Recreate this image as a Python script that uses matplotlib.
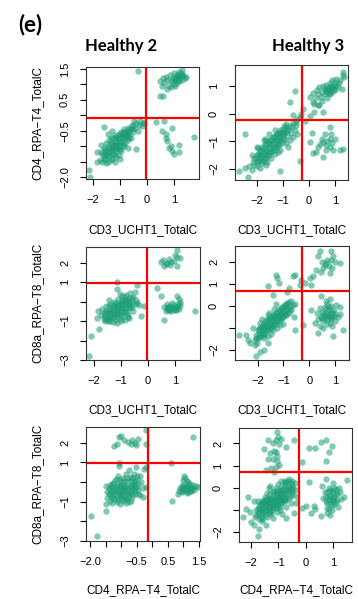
import matplotlib.pyplot as plt

plt.rcParams['font.family'] = ['Liberation Sans', 'DejaVu Sans']

# ---- data (x, y) ----
h2_cd3_cd4 = [
    # lower-left cluster
    (-1.75, -1.45), (-1.7, -1.2), (-1.65, -1.5), (-1.6, -1.3), (-1.6, -1.05), (-1.55, -1.4),
    (-1.5, -1.15), (-1.5, -0.9), (-1.45, -1.35), (-1.45, -1.0), (-1.4, -1.2), (-1.4, -0.8),
    (-1.35, -1.45), (-1.35, -1.05), (-1.3, -0.9), (-1.3, -1.25), (-1.25, -1.1), (-1.25, -0.75),
    (-1.2, -1.3), (-1.2, -0.95), (-1.15, -1.15), (-1.15, -0.7), (-1.1, -0.85), (-1.1, -1.05),
    (-1.05, -1.3), (-1.05, -0.6), (-1.0, -0.95), (-1.0, -0.75), (-0.95, -1.15), (-0.95, -0.55),
    (-0.9, -0.85), (-0.9, -0.65), (-0.85, -1.0), (-0.85, -0.45), (-0.8, -0.7), (-0.8, -0.9),
    (-0.75, -0.55), (-0.7, -0.8), (-0.7, -0.4), (-0.65, -0.6), (-0.6, -0.45), (-0.6, -0.75),
    (-0.55, -0.3), (-0.5, -0.55), (-0.45, -0.4), (-0.4, -0.25), (-0.35, -0.5), (-0.3, -0.3),
    (-0.25, -0.2), (-0.2, -0.35), (-1.59, -0.38), (-0.48, -0.17), (-0.15, -0.26), (-0.42, -1.09),
    (-1.84, -1.19), (-1.84, -1.5), (-1.7, -0.95), (-1.5, -1.55), (-1.2, -1.5), (-1.0, -1.4),
    (-0.7, -1.05), (-1.45, -0.6), (-1.3, -0.5), (-0.1, -0.25), (-2.15, -1.77), (-2.11, -2.0),
    (-0.33, 1.44),
    # upper-right cluster
    (0.5, 1.1), (0.6, 1.2), (0.65, 1.05), (0.7, 1.25), (0.75, 1.15), (0.8, 0.95), (0.85, 1.3),
    (0.9, 1.1), (0.95, 1.2), (1.0, 1.35), (1.0, 1.0), (1.05, 1.15), (1.1, 1.3), (1.1, 1.05),
    (1.15, 1.2), (1.2, 1.4), (1.2, 1.1), (1.25, 1.25), (1.3, 1.45), (1.3, 1.15), (1.35, 1.3),
    (1.4, 1.2), (0.75, 0.85), (0.9, 0.9), (1.05, 0.95), (1.45, 1.25), (0.55, 0.95), (0.6, 0.62),
    (0.5, 0.62),
    # lower-right cluster
    (0.32, -0.23), (0.63, -0.19), (0.94, -0.42), (0.57, -0.5), (0.69, -0.6), (0.75, -0.82),
    (0.88, -0.98), (0.94, -1.14), (1.19, -0.97), (1.19, -1.2), (1.74, -0.71), (0.8, -1.05),
    (0.7, -0.75), (1.0, -1.25),
]
h2_cd3_cd4_core = [
    (-1.65, -1.25), (-1.55, -1.1), (-1.55, -1.25), (-1.45, -1.2), (-1.4, -1.05), (-1.35, -0.9),
    (-1.3, -1.1), (-1.25, -0.95), (-1.2, -1.1), (-1.2, -0.8), (-1.15, -1.0), (-1.1, -0.95),
    (-1.1, -0.75), (-1.05, -0.85), (-1.05, -1.1), (-1.0, -0.65), (-1.0, -1.1), (-0.95, -0.85),
    (-0.95, -0.7), (-0.9, -1.0), (-0.85, -0.75), (-0.85, -0.6), (-0.8, -0.55), (-0.75, -0.75),
    (-0.75, -0.65), (-0.7, -0.55), (-0.65, -0.7), (-0.65, -0.45), (-0.55, -0.45), (-0.5, -0.35),
    (-1.3, -1.4), (-1.45, -1.5), (-1.6, -1.4), (-1.4, -1.3), (-1.25, -1.25), (-1.15, -1.35),
    (-0.9, -0.55), (-1.2, -0.65), (-1.35, -0.75), (-1.5, -1.3),
    (1.1, 1.2), (1.15, 1.3), (1.2, 1.25), (1.05, 1.25), (1.25, 1.35), (0.95, 1.1), (1.3, 1.3),
    (1.15, 1.15),
]

h3_cd3_cd4 = [
    (-2.1, -1.85), (-2.05, -1.6), (-2.0, -1.75), (-1.95, -1.45), (-1.9, -1.65), (-1.9, -1.3),
    (-1.85, -1.5), (-1.8, -1.8), (-1.8, -1.2), (-1.75, -1.4), (-1.7, -1.6), (-1.7, -1.1),
    (-1.65, -1.3), (-1.6, -1.5), (-1.6, -1.0), (-1.55, -1.2), (-1.5, -1.4), (-1.5, -0.95),
    (-1.45, -1.1), (-1.4, -1.3), (-1.4, -0.85), (-1.35, -1.0), (-1.3, -1.2), (-1.3, -0.8),
    (-1.25, -0.95), (-1.2, -1.1), (-1.2, -0.7), (-1.15, -0.85), (-1.1, -1.0), (-1.1, -0.6),
    (-1.05, -0.75), (-1.0, -0.9), (-1.0, -0.55), (-0.95, -0.7), (-0.9, -0.5), (-0.85, -0.8),
    (-0.8, -0.6), (-0.75, -0.45), (-0.7, -0.7), (-0.65, -0.5), (-0.6, -0.35), (-0.55, -0.6),
    (-0.5, -0.42), (-2.2, -1.5), (-2.0, -1.2), (-1.75, -0.95), (-1.55, -0.75), (-1.3, -1.45),
    (-1.1, -1.3), (-0.9, -1.05), (-0.75, -0.95), (-1.9, -1.95), (-1.6, -1.75), (-0.6, -0.85),
    (-0.8, -1.2), (-0.45, -0.75),
    (-2.69, -2.07), (-2.35, -2.28), (-2.46, -1.96), (-2.3, -1.9), (-2.2, -2.05), (-1.12, -2.07),
    (-2.46, -0.73), (-0.36, -1.72),
    (-0.55, 0.81), (-0.74, 0.42), (-0.23, 0.18), (-0.62, -0.06), (-0.36, -0.12), (0.15, 0.42),
    (0.2, 0.06), (0.54, 0.06), (0.35, 0.33), (-0.87, -0.36), (-0.45, -0.2), (-0.3, 0.0),
    (-0.15, -0.25), (0.05, -0.1), (-0.5, -0.3),
    (0.03, 0.6), (0.15, 0.75), (0.25, 0.55), (0.3, 0.85), (0.35, 0.7), (0.4, 0.95), (0.45, 0.6),
    (0.5, 0.8), (0.55, 1.0), (0.6, 0.7), (0.6, 0.9), (0.65, 1.05), (0.7, 0.8), (0.75, 0.95),
    (0.8, 1.1), (0.8, 0.7), (0.85, 0.9), (0.9, 1.2), (0.9, 0.8), (0.95, 1.0), (1.0, 1.15),
    (1.0, 0.85), (1.05, 1.25), (1.1, 0.95), (1.15, 1.1), (1.2, 1.2), (1.25, 0.9), (1.3, 1.4),
    (1.33, 1.32), (1.31, 1.5), (0.5, 0.45), (0.7, 0.55), (0.4, 0.3), (0.2, 0.35),
    (0.03, -1.02), (0.28, -1.38), (0.54, -1.56), (0.92, -1.31), (1.18, -1.31), (1.31, -1.29),
    (0.86, -0.72), (0.6, -0.72), (0.79, -0.9), (0.41, -1.08), (0.54, -1.02), (0.67, -1.14),
    (0.15, -1.44), (0.79, -1.2), (0.7, -1.0), (0.9, -1.05), (0.5, -0.9), (0.65, -1.3),
    (1.0, -0.9), (0.35, -1.2), (0.8, -0.5), (0.1, -0.7),
]
h3_cd3_cd4_core = [
    (-2.1, -1.6), (-2.0, -1.5), (-2.0, -1.9), (-1.95, -1.7), (-1.9, -1.5), (-1.85, -1.35),
    (-1.85, -1.7), (-1.8, -1.55), (-1.75, -1.25), (-1.75, -1.7), (-1.7, -1.45), (-1.65, -1.15),
    (-1.65, -1.6), (-1.6, -1.35), (-1.55, -1.05), (-1.55, -1.5), (-1.5, -1.25), (-1.45, -0.95),
    (-1.45, -1.4), (-1.4, -1.15), (-1.35, -0.85), (-1.35, -1.3), (-1.3, -1.05), (-1.25, -0.75),
    (-1.25, -1.2), (-1.2, -0.95), (-1.15, -0.7), (-1.15, -1.15), (-1.1, -0.85), (-1.05, -0.65),
    (-1.05, -1.05), (-1.0, -0.75), (-0.95, -0.9), (-0.9, -0.65), (-0.85, -0.55), (-1.65, -1.85),
    (-1.45, -1.6), (-1.95, -1.25), (-1.7, -0.9), (-1.3, -0.6), (-2.15, -1.75), (-1.2, -1.4),
    (-0.95, -0.45),
    (0.7, 0.9), (0.8, 0.85), (0.9, 0.95), (0.75, 0.75), (0.85, 1.0), (0.95, 0.9), (1.05, 1.05),
    (0.65, 0.85),
]

h2_cd3_cd8 = [
    (-1.75, -0.7), (-1.7, -0.4), (-1.65, -0.9), (-1.6, -0.55), (-1.55, -0.25), (-1.5, -0.75),
    (-1.5, -1.0), (-1.45, -0.45), (-1.4, -0.1), (-1.4, -0.8), (-1.35, -0.6), (-1.3, -0.3),
    (-1.3, -1.05), (-1.25, 0.0), (-1.25, -0.8), (-1.2, -0.5), (-1.15, -0.2), (-1.15, -1.1),
    (-1.1, 0.15), (-1.1, -0.65), (-1.05, -0.35), (-1.0, -0.9), (-1.0, 0.0), (-0.95, -0.5),
    (-0.95, 0.3), (-0.9, -0.15), (-0.9, -0.75), (-0.85, 0.1), (-0.8, -0.4), (-0.8, 0.35),
    (-0.75, -0.1), (-0.75, -0.65), (-0.7, 0.2), (-0.65, -0.3), (-0.65, 0.45), (-0.6, 0.0),
    (-0.55, -0.5), (-0.55, 0.25), (-0.5, -0.15), (-0.45, 0.1), (-1.6, -1.0), (-1.2, -0.95),
    (-0.85, -0.95), (-1.45, 0.1), (-1.05, 0.4), (-0.7, -0.85),
    (-1.14, 1.0), (-1.14, 0.66), (-0.4, 0.83), (-0.33, -0.2), (-0.15, -0.25), (-0.27, -0.76),
    (-1.88, -0.83), (-1.82, -1.4), (-2.12, -1.75), (-2.19, -2.78), (-0.4, -0.05), (-0.5, 0.5),
    (-1.85, -0.5),
    (0.35, 0.71), (0.47, 0.26), (0.6, -0.97), (1.76, -0.46), (1.09, 0.3), (1.15, 0.13),
    (0.6, -0.3), (0.7, -0.15), (0.75, -0.45), (0.8, -0.25), (0.85, -0.5), (0.9, -0.35),
    (0.95, -0.2), (1.0, -0.45), (1.05, -0.3), (1.1, -0.1), (1.15, -0.4), (1.2, -0.2),
    (0.65, -0.5), (0.9, -0.05), (1.2, 0.0), (0.75, -0.3),
    (1.09, 2.67), (0.47, 2.04), (0.78, 2.2), (1.09, 2.29), (1.09, 1.81), (0.6, 1.85),
    (0.7, 2.0), (0.85, 2.05), (0.55, 2.15), (0.65, 1.95), (0.95, 2.1), (1.0, 2.4), (0.8, 1.9),
    (1.2, 2.25),
]
h2_cd3_cd8_core = [
    (-1.65, -0.65), (-1.6, -0.8), (-1.55, -0.5), (-1.5, -0.6), (-1.45, -0.9), (-1.45, -0.25),
    (-1.4, -0.55), (-1.35, -0.4), (-1.35, -0.8), (-1.3, -0.65), (-1.25, -0.2), (-1.25, -0.45),
    (-1.2, -0.7), (-1.2, -0.05), (-1.15, -0.35), (-1.15, -0.55), (-1.1, -0.8), (-1.1, -0.3),
    (-1.05, -0.1), (-1.05, -0.55), (-1.0, -0.2), (-1.0, -0.7), (-0.95, 0.1), (-0.95, -0.35),
    (-0.9, -0.55), (-0.9, 0.05), (-0.85, -0.3), (-0.85, 0.25), (-0.8, -0.15), (-0.8, -0.55),
    (-0.75, 0.1), (-0.7, -0.35), (-0.7, 0.0), (-0.65, -0.15), (-0.6, 0.2), (-0.6, -0.3),
    (-1.4, -1.0), (-1.0, -1.0), (-1.55, -0.9), (-0.75, -0.8),
    (0.75, -0.4), (0.85, -0.35), (0.95, -0.4), (1.05, -0.45), (1.1, -0.3), (0.7, -0.35),
    (0.8, -0.45), (1.0, -0.3),
]

h3_cd3_cd8 = [
    (-2.1, -1.55), (-2.05, -1.3), (-2.0, -1.1), (-2.0, -1.45), (-1.95, -1.2), (-1.9, -0.95),
    (-1.9, -1.4), (-1.85, -1.15), (-1.8, -0.85), (-1.8, -1.3), (-1.75, -1.0), (-1.7, -0.7),
    (-1.7, -1.2), (-1.65, -0.9), (-1.6, -0.6), (-1.6, -1.1), (-1.55, -0.8), (-1.5, -0.5),
    (-1.5, -1.0), (-1.45, -0.7), (-1.4, -0.4), (-1.4, -0.9), (-1.35, -0.6), (-1.3, -0.3),
    (-1.3, -0.8), (-1.25, -0.5), (-1.2, -0.2), (-1.2, -0.7), (-1.15, -0.4), (-1.1, -0.1),
    (-1.1, -0.6), (-1.05, -0.3), (-1.0, 0.0), (-1.0, -0.5), (-0.95, -0.2), (-0.9, 0.1),
    (-0.9, -0.4), (-0.85, -0.1), (-0.8, 0.2), (-0.8, -0.3), (-0.75, 0.0), (-0.7, -0.2),
    (-0.7, 0.25), (-0.65, 0.05), (-1.75, -1.45), (-1.5, -1.25), (-1.25, -1.0), (-1.0, -0.8),
    (-2.2, -1.0), (-1.85, -0.6), (-1.55, -0.3), (-1.3, 0.1), (-0.6, -0.5), (-0.55, 0.1),
    (-2.45, -1.3), (-2.39, -1.53), (-2.71, -1.3), (-2.09, -1.76), (-1.77, -1.99), (-2.03, -1.7),
    (-2.08, -2.26), (-2.3, -1.7), (-1.9, -2.1), (-1.6, -1.7),
    (-1.29, 1.39), (-1.61, 0.92), (-1.16, 1.05), (-0.57, 1.39), (-0.31, 1.2), (-0.18, 1.05),
    (0.07, 0.97), (-0.77, 0.83), (-1.42, 0.51), (-1.26, 1.27), (-0.64, 1.36), (-0.37, 0.95),
    (-0.87, 0.64),
    (0.4, 2.49), (0.85, 2.49), (0.92, 2.26), (0.66, 1.95), (0.27, 1.66), (0.01, 1.27),
    (0.34, 2.26), (1.18, 1.95), (0.79, 1.5), (0.53, 1.73), (0.14, 1.35), (0.7, 2.1), (0.6, 1.85),
    (0.75, 1.8), (0.5, 2.0), (0.9, 1.75), (0.45, 1.55), (1.0, 2.0), (0.85, 2.1),
    (0.47, 0.44), (0.08, -0.2), (1.31, -1.08), (0.92, -1.38), (0.34, -1.23), (0.21, -0.77),
    (-0.25, -0.85), (-0.57, -1.08), (1.18, -0.06), (0.3, -0.3), (0.4, -0.1), (0.45, -0.5),
    (0.5, -0.25), (0.55, -0.7), (0.6, -0.05), (0.6, -0.45), (0.65, -0.3), (0.7, -0.6),
    (0.7, 0.1), (0.75, -0.2), (0.75, -0.45), (0.8, -0.75), (0.85, -0.3), (0.85, 0.0),
    (0.9, -0.5), (0.95, -0.2), (1.0, -0.7), (1.0, -0.35), (1.05, 0.05), (1.1, -0.5),
    (0.55, -1.0), (0.35, -0.6), (0.65, 0.25), (0.9, -0.9), (1.2, -0.35), (0.4, -0.9), (0.8, 0.3),
]
h3_cd3_cd8_core = [
    (-2.05, -1.45), (-1.95, -1.35), (-1.95, -1.05), (-1.85, -1.25), (-1.85, -0.95), (-1.8, -1.1),
    (-1.75, -0.8), (-1.75, -1.25), (-1.7, -0.95), (-1.65, -1.1), (-1.65, -0.7), (-1.6, -0.85),
    (-1.55, -1.0), (-1.55, -0.6), (-1.5, -0.75), (-1.45, -0.9), (-1.45, -0.5), (-1.4, -0.65),
    (-1.35, -0.8), (-1.35, -0.4), (-1.3, -0.55), (-1.25, -0.7), (-1.25, -0.3), (-1.2, -0.45),
    (-1.15, -0.6), (-1.15, -0.2), (-1.1, -0.35), (-1.05, -0.5), (-1.05, -0.1), (-1.0, -0.25),
    (-0.95, -0.4), (-0.95, 0.05), (-0.9, -0.15), (-0.85, -0.3), (-0.85, 0.15), (-0.75, -0.15),
    (-1.6, -1.35), (-1.4, -1.1), (-1.15, -0.85), (-1.9, -0.75), (-1.6, -0.4), (-1.35, -0.15),
    (0.55, -0.35), (0.6, -0.6), (0.65, -0.15), (0.7, -0.4), (0.75, -0.05), (0.8, -0.5),
    (0.85, -0.6), (0.9, -0.25), (0.95, -0.45), (0.7, -0.8), (0.5, -0.55),
]

h2_cd4_cd8 = [
    (-1.06, 2.29), (-1.23, 1.81), (-0.79, 2.03), (-0.53, 1.87), (-0.47, 2.2), (-0.2, 2.63),
    (-0.2, 1.95), (-0.9, 2.12), (-0.64, 2.12), (-1.12, 1.95), (-1.0, 2.35), (-0.7, 1.95),
    (-0.55, 2.0), (1.3, 2.3),
    (-1.45, -0.5), (-1.45, -0.8), (-1.4, -0.3), (-1.35, -0.65), (-1.35, -0.95), (-1.3, -0.1),
    (-1.3, -0.45), (-1.25, -0.8), (-1.2, 0.1), (-1.2, -0.3), (-1.2, -0.6), (-1.15, -1.0),
    (-1.1, -0.15), (-1.1, -0.45), (-1.1, 0.3), (-1.05, -0.75), (-1.0, 0.0), (-1.0, -0.3),
    (-1.0, -0.6), (-0.95, -0.95), (-0.95, 0.2), (-0.9, -0.15), (-0.9, -0.45), (-0.85, 0.4),
    (-0.85, -0.75), (-0.8, 0.05), (-0.8, -0.3), (-0.75, -0.55), (-0.75, -1.0), (-0.7, 0.25),
    (-0.7, -0.15), (-0.65, -0.4), (-0.65, -0.75), (-0.6, 0.0), (-0.6, 0.4), (-0.55, -0.25),
    (-0.55, -0.6), (-0.5, 0.15), (-0.45, -0.4), (-0.45, -0.1), (-0.4, 0.3), (-0.4, -0.65),
    (-1.3, -1.05), (-1.05, -1.1), (-0.85, -1.05), (-1.5, -0.2), (-0.35, 0.0), (-0.3, -0.3),
    (-1.06, 0.96), (-1.06, 0.84), (-0.53, 0.79), (-0.26, 0.67), (-1.48, -1.11), (-1.48, -1.48),
    (-1.98, -1.71), (-1.77, -2.76), (-0.2, -0.26), (-0.31, -0.77), (-0.2, 0.75), (-0.75, 0.6),
    (1.03, 0.33), (0.82, -0.6), (1.46, -0.26), (0.63, -0.98), (0.6, 0.96), (0.9, -0.3),
    (0.95, -0.5), (1.0, -0.15), (1.05, -0.4), (1.1, -0.2), (1.1, -0.55), (1.15, -0.3),
    (1.2, -0.1), (1.2, -0.45), (1.25, -0.3), (1.3, -0.15), (1.35, -0.4), (1.0, 0.1),
    (1.05, 0.2), (0.95, -0.35), (1.15, 0.0), (1.4, -0.2), (0.85, -0.45), (1.1, 0.05),
]
h2_cd4_cd8_core = [
    (-1.4, -0.6), (-1.35, -0.4), (-1.3, -0.75), (-1.3, -0.25), (-1.25, -0.55), (-1.25, -0.05),
    (-1.2, -0.85), (-1.2, -0.4), (-1.15, -0.2), (-1.15, -0.65), (-1.1, -0.3), (-1.1, -0.9),
    (-1.05, 0.1), (-1.05, -0.55), (-1.0, -0.45), (-1.0, -0.15), (-1.0, -0.8), (-0.95, -0.25),
    (-0.95, -0.65), (-0.9, 0.05), (-0.9, -0.35), (-0.9, -0.85), (-0.85, -0.2), (-0.85, -0.55),
    (-0.8, 0.2), (-0.8, -0.45), (-0.8, -0.85), (-0.75, -0.25), (-0.75, -0.7), (-0.7, 0.05),
    (-0.7, -0.45), (-0.65, -0.2), (-0.65, -0.6), (-0.6, -0.1), (-0.6, -0.3), (-0.55, 0.05),
    (-0.55, -0.45), (-0.5, -0.25), (-0.5, 0.3), (-1.15, 0.15), (-0.45, -0.6), (-0.7, -0.95),
    (-1.35, -0.15), (-0.65, 0.2),
    (1.0, -0.3), (1.05, -0.25), (1.1, -0.4), (1.15, -0.15), (1.2, -0.3), (1.25, -0.45),
    (1.0, -0.45), (0.95, -0.2), (1.3, -0.3), (1.15, -0.5),
]

h3_cd4_cd8 = [
    (-1.03, 2.51), (-1.09, 2.14), (-1.39, 2.14), (-1.51, 1.76), (-1.39, 1.3), (-1.09, 0.92),
    (-0.73, 1.83), (-0.42, 2.14), (-1.15, 1.68), (-0.97, 1.98), (-1.21, 1.3), (-1.03, 1.45),
    (-1.27, 0.88), (-0.97, 1.03), (-1.09, 1.6), (-1.0, 2.3), (-1.2, 2.0), (-1.3, 1.55),
    (-1.05, 1.2), (-0.9, 2.2), (-1.45, 0.8), (-1.15, 0.7),
    (0.12, 1.79), (0.36, 1.79), (0.55, 2.09), (0.75, 2.14), (0.97, 1.88), (0.85, 1.6),
    (0.73, 1.23), (-0.12, 1.15), (0.12, 0.24),
    (-1.85, -1.3), (-1.8, -1.0), (-1.75, -1.2), (-1.7, -0.8), (-1.7, -1.4), (-1.65, -1.0),
    (-1.6, -0.6), (-1.6, -1.2), (-1.55, -0.85), (-1.5, -0.4), (-1.5, -1.05), (-1.45, -0.7),
    (-1.4, -1.3), (-1.4, -0.25), (-1.35, -0.9), (-1.3, -0.5), (-1.3, -1.1), (-1.25, -0.7),
    (-1.2, -0.2), (-1.2, -0.95), (-1.15, -0.45), (-1.1, -0.75), (-1.1, 0.0), (-1.05, -1.1),
    (-1.05, -0.3), (-1.0, -0.55), (-1.0, 0.15), (-0.95, -0.85), (-0.95, -0.1), (-0.9, -0.4),
    (-0.9, 0.3), (-0.85, -0.65), (-0.8, 0.0), (-0.8, -0.25), (-0.75, -0.5), (-0.7, 0.2),
    (-0.7, -0.85), (-0.65, -0.15), (-0.6, -0.45), (-0.6, 0.1), (-0.55, -0.7), (-0.5, 0.3),
    (-0.5, -0.2), (-0.45, 0.0), (-1.9, -0.6), (-1.3, 0.1), (-0.85, -1.2), (-1.6, -1.5),
    (-1.2, -1.35), (-0.6, 0.39), (-0.3, -0.4), (-0.4, 0.2), (-0.35, -0.7),
    (-2.12, -0.41), (-2.3, -1.3), (-2.0, -1.53), (-1.7, -1.88), (-1.76, -2.2), (-0.73, -1.35),
    (-0.42, -1.15), (-0.12, -0.9), (0.0, -0.82), (-2.05, -1.1), (-1.9, -1.7), (-1.45, -1.7),
    (-2.2, -0.95),
    (0.73, 0.39), (1.21, 0.01), (1.53, 0.35), (0.36, -0.97), (0.18, -1.12), (0.55, -1.27),
    (0.3, -0.82), (0.7, -0.2), (0.75, -0.6), (0.8, -0.9), (0.85, 0.0), (0.85, -0.35),
    (0.9, -0.7), (0.95, -0.15), (0.95, -1.0), (1.0, -0.45), (1.0, 0.2), (1.05, -0.75),
    (1.1, -0.3), (1.1, -0.05), (1.15, -0.55), (1.2, -0.85), (1.25, -0.2), (0.8, -1.15),
    (0.65, -0.45), (0.9, -1.25), (1.3, -0.5), (0.6, 0.1), (1.4, -0.4),
]
h3_cd4_cd8_core = [
    (-1.8, -1.25), (-1.75, -0.95), (-1.7, -1.1), (-1.65, -0.75), (-1.65, -1.3), (-1.6, -0.95),
    (-1.55, -1.1), (-1.55, -0.6), (-1.5, -0.8), (-1.5, -1.25), (-1.45, -0.55), (-1.45, -1.0),
    (-1.4, -0.8), (-1.4, -0.45), (-1.35, -1.15), (-1.35, -0.65), (-1.3, -0.85), (-1.3, -0.3),
    (-1.25, -0.5), (-1.25, -1.0), (-1.2, -0.75), (-1.2, -0.35), (-1.15, -0.6), (-1.15, -0.15),
    (-1.1, -0.9), (-1.1, -0.45), (-1.05, -0.65), (-1.05, -0.15), (-1.0, -0.4), (-1.0, -0.8),
    (-0.95, -0.25), (-0.95, -0.6), (-0.9, 0.05), (-0.9, -0.7), (-0.85, -0.45), (-0.85, -0.1),
    (-0.8, -0.55), (-0.75, -0.3), (-0.75, 0.1), (-0.7, -0.5), (-0.65, -0.3), (-0.6, -0.1),
    (-1.6, -1.4), (-1.25, -1.2), (-0.95, -1.0), (-1.75, -0.6), (-1.35, 0.0), (-0.55, -0.35),
    (-0.8, 0.25), (-1.7, -0.9), (-1.6, -0.75), (-1.5, -0.6), (-1.45, -0.85), (-1.35, -0.5),
    (-1.3, -0.7), (-1.25, -0.85), (-1.2, -0.55), (-1.15, -0.8), (-1.1, -0.6), (-1.05, -0.85),
    (-1.0, -0.25), (-0.95, -0.45), (-0.9, -0.55), (-0.85, -0.25), (-0.8, -0.4), (-0.75, -0.6),
    (-0.7, -0.1), (-0.65, 0.0), (-0.55, -0.05), (-0.5, 0.1), (-0.45, -0.3), (-0.4, -0.1),
    (-0.65, 0.3), (-0.75, 0.3), (-0.55, 0.2),
    (0.8, -0.2), (0.85, -0.5), (0.9, -0.35), (0.9, -0.1), (0.95, -0.55), (0.95, -0.8),
    (1.0, -0.25), (1.0, -0.6), (1.05, -0.45), (1.05, 0.0), (0.8, -0.7), (0.75, -0.4),
    (1.1, -0.65), (0.85, -0.95), (1.15, -0.3),
]

# gate positions (vertical, horizontal)
gates = [(-0.05, -0.1), (-0.27, -0.22), (-0.05, 0.97), (-0.27, 0.69), (-0.13, 0.97), (-0.24, 0.7)]

ticks_a = [1.5, 1.0, 0.5, 0.0, -0.5, -1.0, -1.5, -2.0]
labels_a = ['1.5', '', '0.5', '', '−0.5', '', '', '−2.0']
ticks_int4 = [-2, -1, 0, 1]
labels_int4 = ['−2', '−1', '0', '1']
ticks_c = [2, 1, 0, -1, -2, -3]
labels_c = ['2', '1', '', '−1', '', '−3']
ticks_d = [2, 1, 0, -1, -2]
labels_d = ['2', '1', '0', '', '−2']
ticks_e = [-2.0, -1.5, -1.0, -0.5, 0.0, 0.5, 1.0, 1.5]
labels_e = ['−2.0', '', '', '−0.5', '', '0.5', '', '1.5']

W, H = 358, 599
fig = plt.figure(figsize=(W / 100, H / 100), dpi=100)


def add_panel(rect, pts, xlim, ylim, xt, xl, yt, yl, gate):
    left, top, right, bottom = rect
    ax = fig.add_axes([left / W, 1 - bottom / H, (right - left) / W, (bottom - top) / H])
    xs = [p[0] for p in pts]
    ys = [p[1] for p in pts]
    ax.scatter(xs, ys, s=21, color='#1b9e77', alpha=0.55, linewidths=0)
    ax.axvline(gate[0], color='red', lw=1.6)
    ax.axhline(gate[1], color='red', lw=1.6)
    ax.set_xlim(*xlim)
    ax.set_ylim(*ylim)
    ax.set_xticks(xt)
    ax.set_xticklabels(xl)
    ax.set_yticks(yt)
    ax.set_yticklabels(yl, rotation=90, va='center')
    ax.tick_params(length=4.5, width=0.8, labelsize=8, pad=7)
    for sp in ax.spines.values():
        sp.set_linewidth(0.8)
        sp.set_color('#333333')
    return ax


add_panel((86, 67, 199, 179), h2_cd3_cd4 + h2_cd3_cd4_core, (-2.26, 1.93), (-2.06, 1.56),
          ticks_int4, labels_int4, ticks_a, labels_a, gates[0])
add_panel((235, 65, 348, 180), h3_cd3_cd4 + h3_cd3_cd4_core, (-2.85, 1.5), (-2.4, 1.76),
          ticks_int4, labels_int4, ticks_int4, labels_int4, gates[1])
add_panel((86, 247, 200, 360), h2_cd3_cd8 + h2_cd3_cd8_core, (-2.3, 1.93), (-3.0, 2.8),
          ticks_int4, labels_int4, ticks_c, labels_c, gates[2])
add_panel((235, 246, 349, 360), h3_cd3_cd8 + h3_cd3_cd8_core, (-2.88, 1.54), (-2.45, 2.73),
          ticks_int4, labels_int4, ticks_d, labels_d, gates[3])
add_panel((86, 427, 200, 541), h2_cd4_cd8 + h2_cd4_cd8_core, (-2.13, 1.53), (-3.0, 2.8),
          ticks_e, labels_e, ticks_c, labels_c, gates[4])
add_panel((239, 428, 352, 542), h3_cd4_cd8 + h3_cd4_cd8_core, (-2.44, 1.7), (-2.45, 2.7),
          ticks_int4, labels_int4, ticks_d, labels_d, gates[5])


def ftext(x, y, s, **kw):
    fig.text(x / W, 1 - y / H, s, ha='center', va='center', **kw)


ftext(30, 25, '(e)', fontsize=16, fontweight='bold', family=['Lato', 'DejaVu Sans'])
ftext(121, 46, 'Healthy 2', fontsize=12, fontweight='bold', family=['Lato', 'DejaVu Sans'])
ftext(308, 46, 'Healthy 3', fontsize=12, fontweight='bold', family=['Lato', 'DejaVu Sans'])

ftext(143, 230, 'CD3_UCHT1_TotalC', fontsize=8.5)
ftext(292, 230, 'CD3_UCHT1_TotalC', fontsize=8.5)
ftext(143, 410, 'CD3_UCHT1_TotalC', fontsize=8.5)
ftext(292, 410, 'CD3_UCHT1_TotalC', fontsize=8.5)
ftext(143, 590, 'CD4_RPA−T4_TotalC', fontsize=8.5)
ftext(296, 590, 'CD4_RPA−T4_TotalC', fontsize=8.5)

ftext(37, 123, 'CD4_RPA−T4_TotalC', fontsize=8.5, rotation=90)
ftext(37, 303, 'CD8a_RPA−T8_TotalC', fontsize=8.5, rotation=90)
ftext(37, 484, 'CD8a_RPA−T8_TotalC', fontsize=8.5, rotation=90)

fig.savefig('out.png', dpi=100)
